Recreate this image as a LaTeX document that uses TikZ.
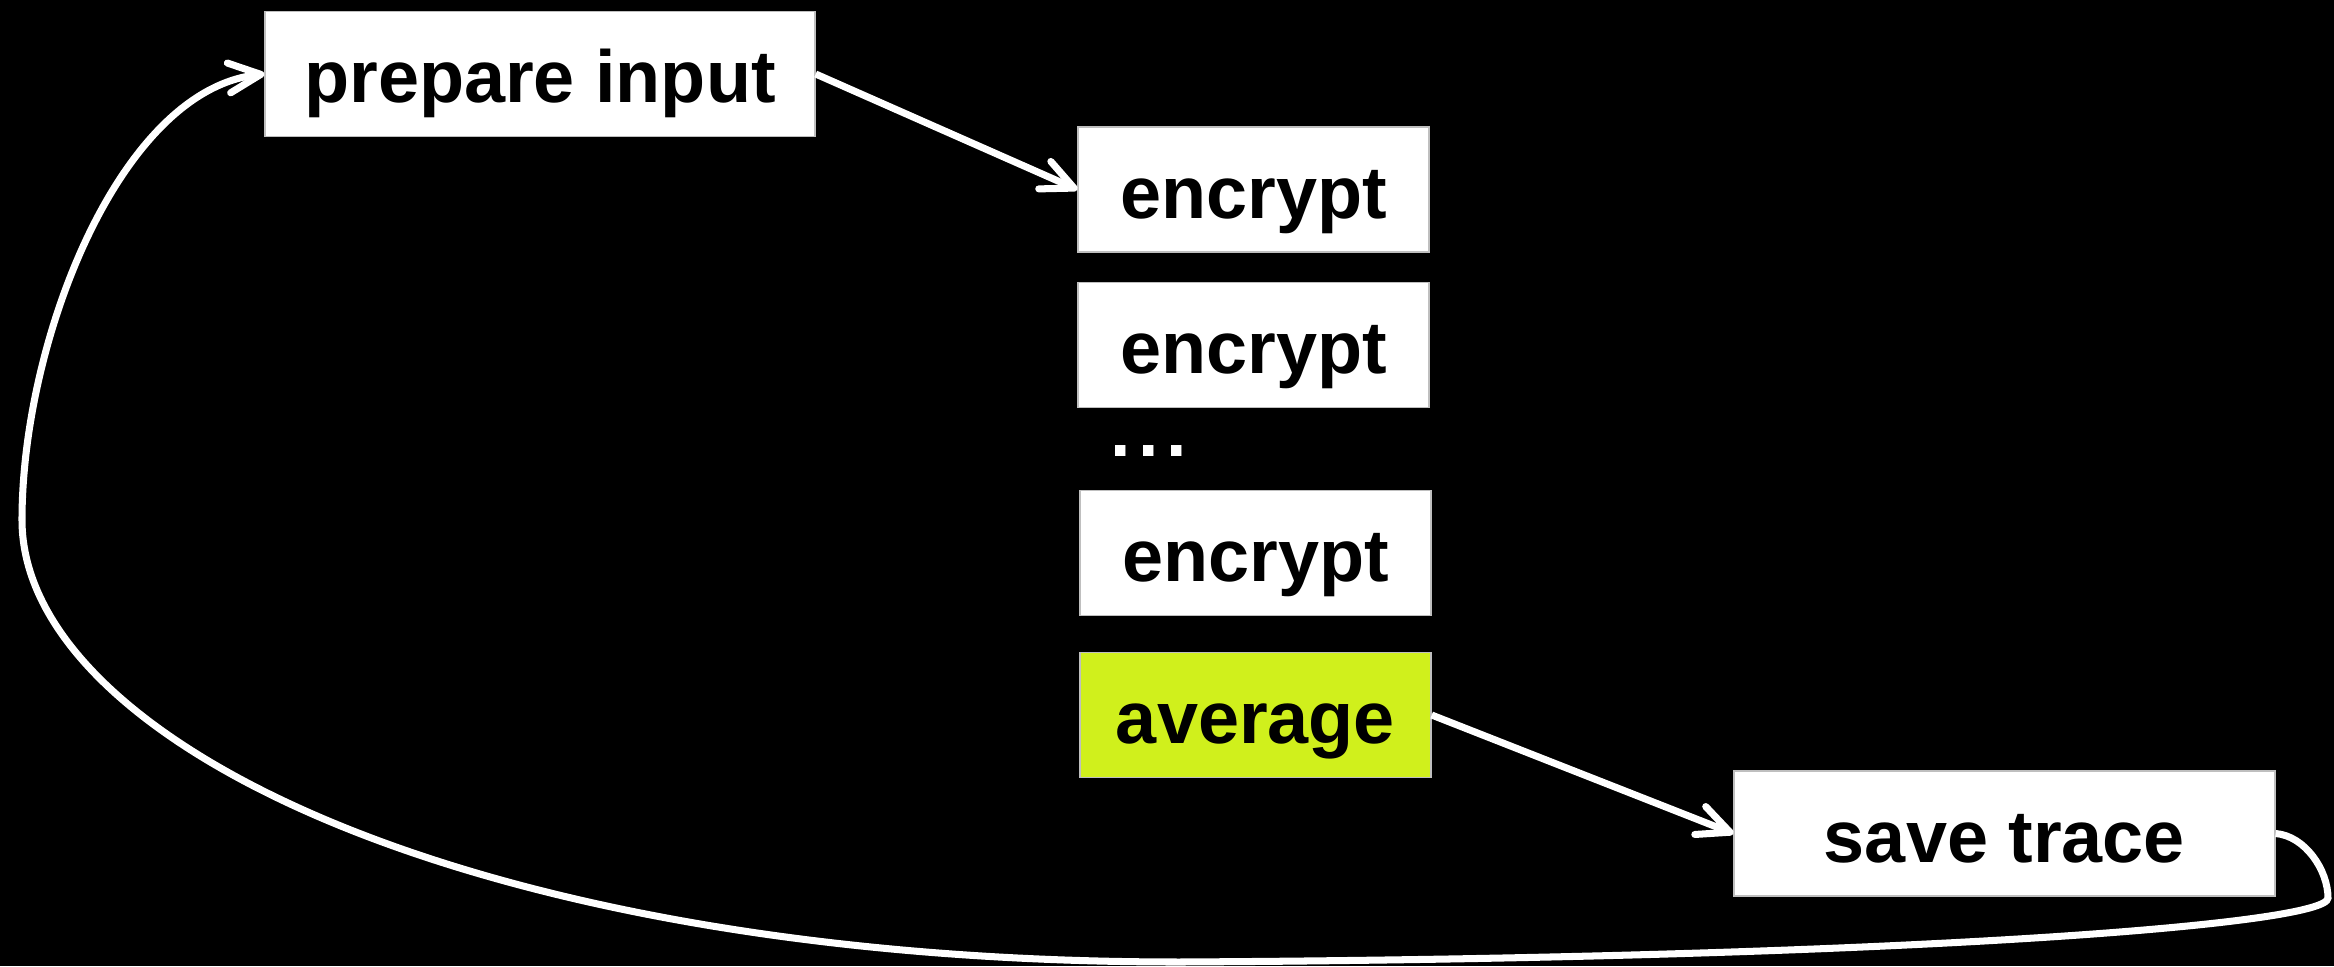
\documentclass[tikz,border=0pt]{standalone}
\usepackage{fontspec}
\setmainfont{Liberation Sans}
\usetikzlibrary{arrows.meta}
\definecolor{limegreen}{RGB}{208,240,28}
\begin{document}
\begin{tikzpicture}[
  box/.style={draw=gray!50,fill=white,text=black,inner sep=0pt,
    minimum width=3.51cm,text height=0.91cm,text depth=0.34cm,
    font=\fontsize{21}{25}\selectfont\bfseries},
  flow/.style={white,line width=2pt,
    -{Straight Barb[length=3.2mm,width=3mm,round]}}]
\fill[black] (0,0) rectangle (23.34,-9.66);
\node[box,minimum width=5.50cm] (prep) at (5.40,-0.74) {prepare input};
\node[box] (enc1) at (12.535,-1.895) {encrypt};
\node[box] (enc2) at (12.535,-3.45) {encrypt};
\node[text=white,inner sep=0pt,font=\fontsize{21}{25}\selectfont\bfseries] (dots) at (11.49,-4.51) {.\kern0.1em.\kern0.1em.};
\node[box] (enc3) at (12.555,-5.53) {encrypt};
\node[box,fill=limegreen] (avg) at (12.555,-7.15) {average};
\node[box,minimum width=5.41cm] (save) at (20.045,-8.335) {save trace};
\draw[flow] (prep.east) -- (enc1.west);
\draw[flow] (avg.east) -- (save.west);
% loop back from the trace to the next input
\draw[flow] (save.east) .. controls (23.05,-8.36) and (23.28,-8.7) .. (23.28,-8.98)
  .. controls (23.28,-9.25) and (19,-9.58) .. (11.8,-9.62)
  .. controls (4.7,-9.62) and (0.22,-7.4) .. (0.22,-5.2)
  .. controls (0.22,-3.4) and (1.2,-0.9) .. (prep.west);
\end{tikzpicture}
\end{document}
